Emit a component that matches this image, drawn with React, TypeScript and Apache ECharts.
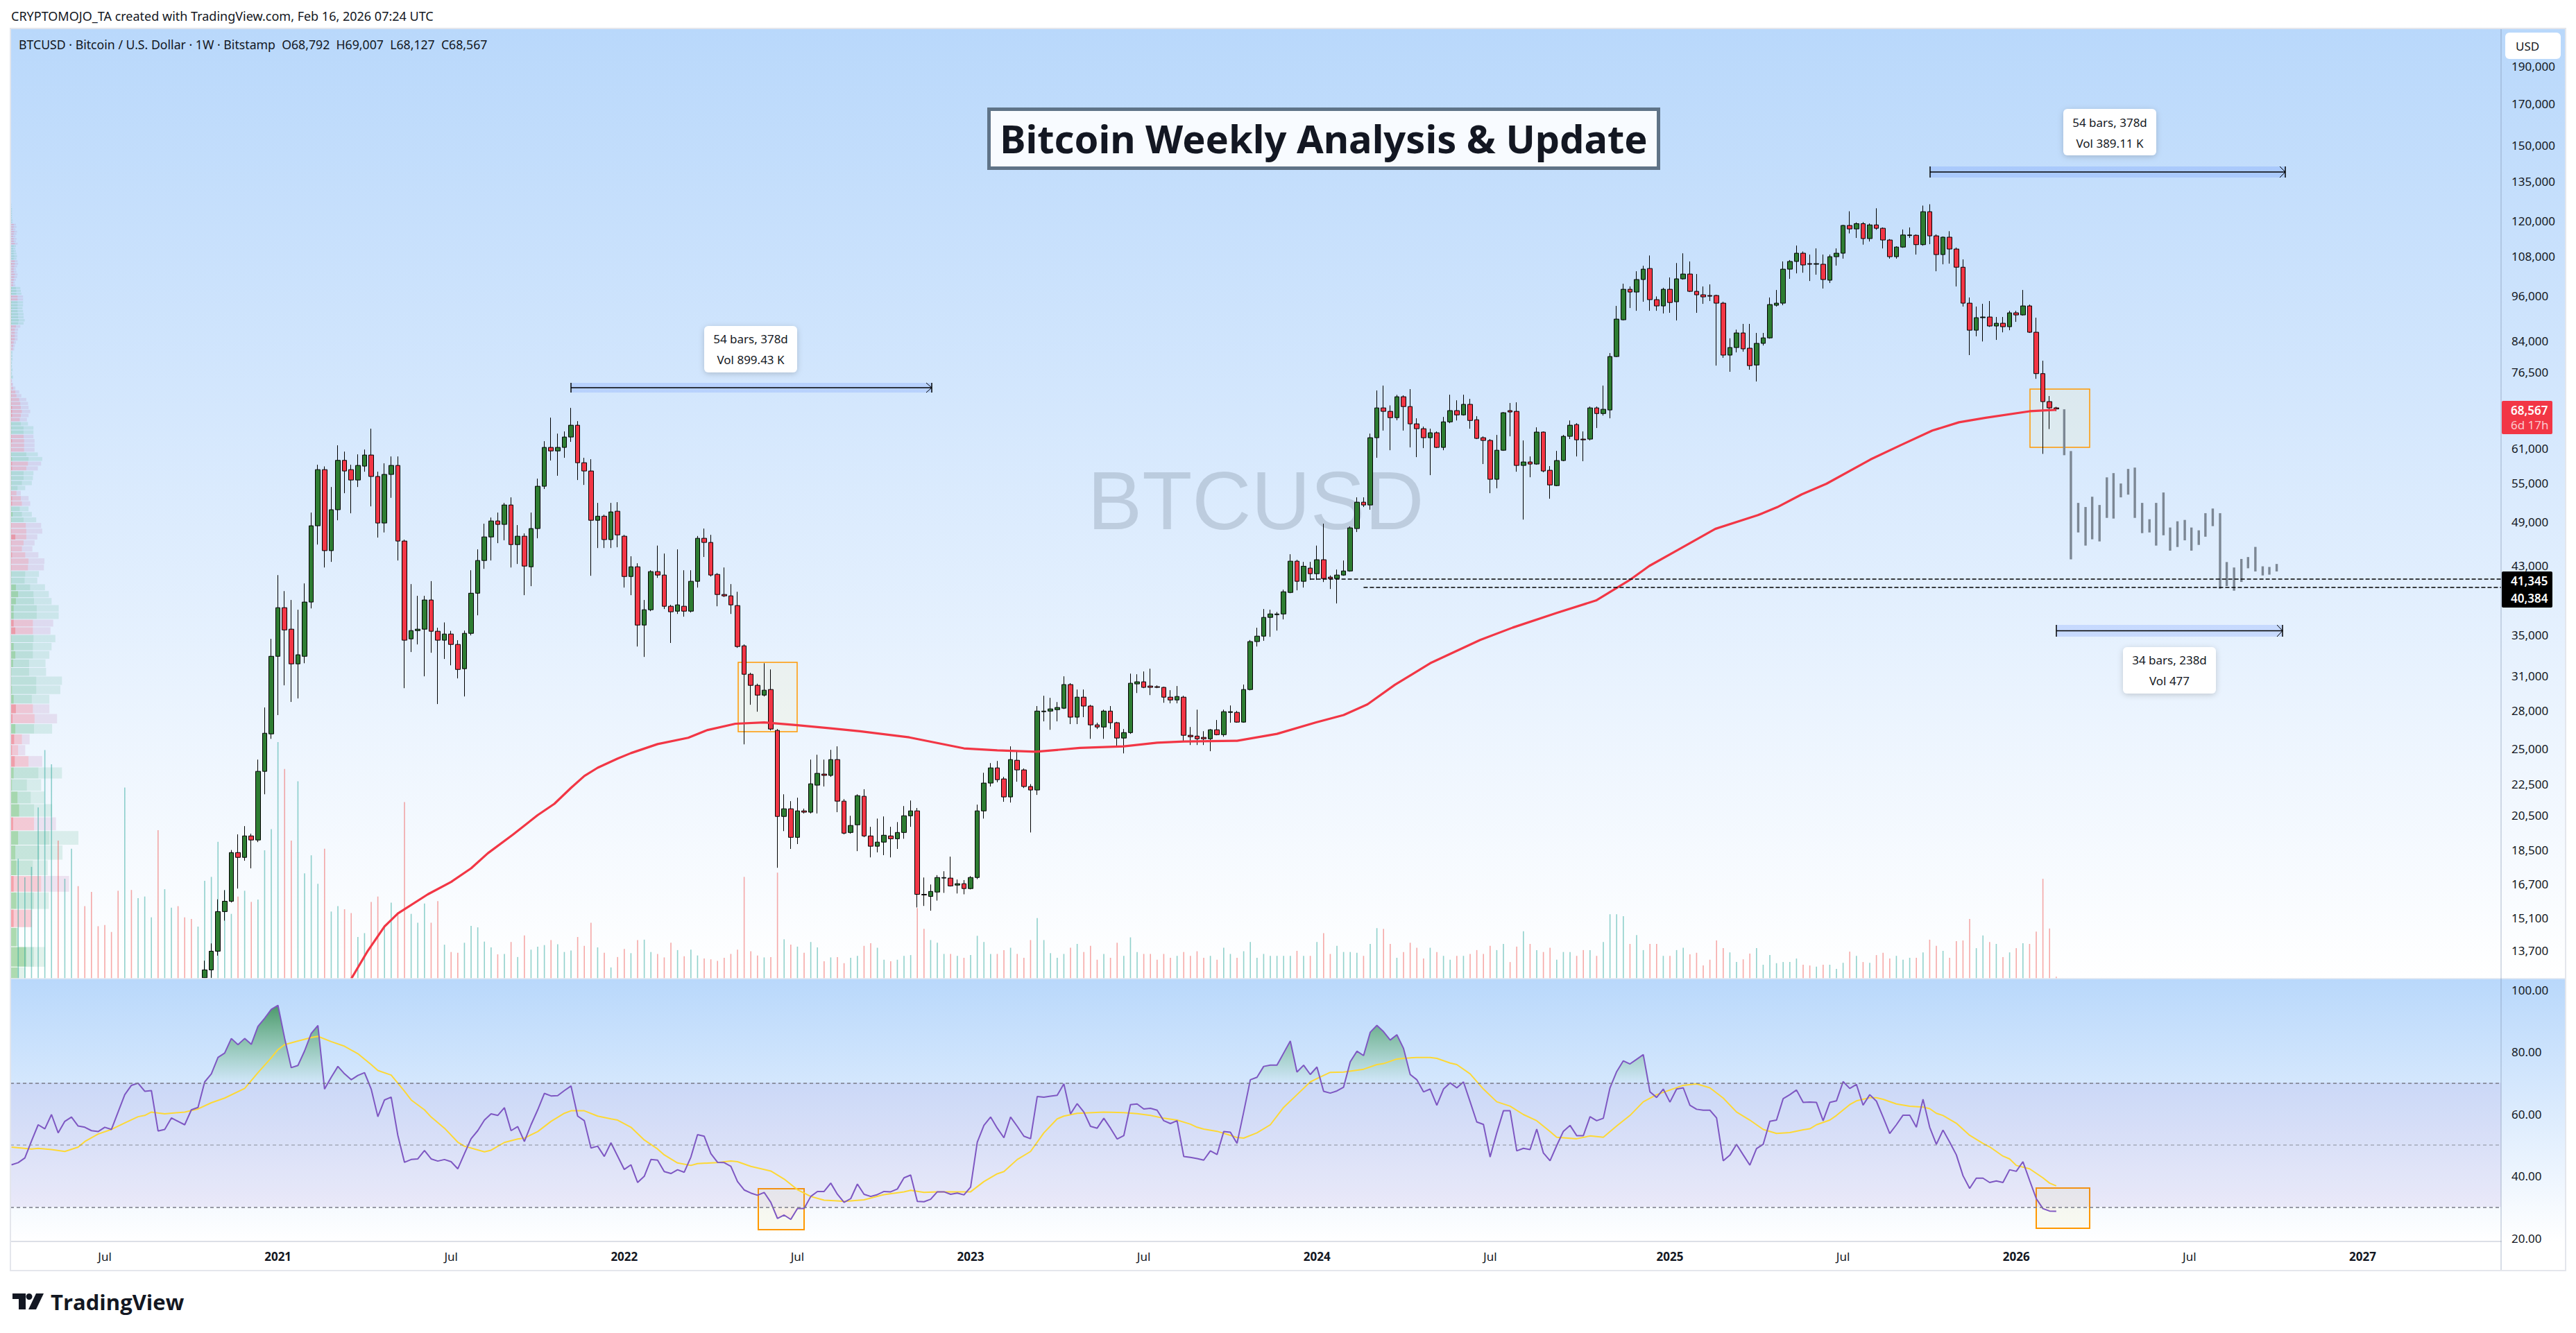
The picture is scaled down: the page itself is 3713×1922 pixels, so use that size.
import React, { useEffect, useRef } from "react";
import * as echarts from "echarts";

const FONT = '"Noto Sans", sans-serif';
const ORIGIN = Date.UTC(2020, 9, 19);
const WEEK = 7 * 864e5;
const weekTime = (w: number) => ORIGIN + w * WEEK;

const headerLine = "BTCUSD · Bitcoin / U.S. Dollar · 1W · Bitstamp  O68,792  H69,007  L68,127  C68,567";
const creditLine = "CRYPTOMOJO_TA created with TradingView.com, Feb 16, 2026 07:24 UTC";
const titleText = "Bitcoin Weekly Analysis & Update";

const priceTicks = [190000, 170000, 150000, 135000, 120000, 108000, 96000, 84000, 76500, 61000, 55000, 49000, 43000, 35000, 31000, 28000, 25000, 22500, 20500, 18500, 16700, 15100, 13700];
const rsiTicks = [100, 80, 60, 40, 20];
const timeTicks = ["2020-07-06", "2021-01-04", "2021-07-05", "2022-01-03", "2022-07-04", "2023-01-02", "2023-07-03", "2024-01-01", "2024-07-01", "2025-01-06", "2025-07-07", "2026-01-05", "2026-07-06", "2027-01-04"];

// [open, high, low, close], one row per week from 2020-10-19
const candles2020 = [[12640,13300,12640,12940],[12940,14000,12640,13680],[13680,15960,13500,15390],[15390,16400,14980,15870],[15870,18480,15810,18340],[18340,19360,16480,18080],[18080,19840,17900,19270],[19270,19400,17500,19040],[19040,24180,18920,23350],[23350,28230,21810,26150],[26100,34620,25720,32870]];
const candles2021 = [[32870,41840,27600,37980],[37980,39900,30150,35550],[35630,38860,28700,32140],[32140,37750,29000,33020],[32870,40820,32200,38620],[38620,50390,37900,48450],[48450,58090,45820,57250],[57250,57800,42800,45000],[45000,54370,43520,50820],[50820,61540,49250,58850],[58850,60400,53380,57020],[57250,58090,50280,55510],[55510,59910,54370,57970],[57850,60780,56900,59790],[59790,64660,51330,56100],[56100,56900,46780,48850],[48850,58330,47500,56440],[56440,59540,52650,57970],[57970,59540,43700,46300],[46300,46500,29900,34480],[34620,40740,33290,35480],[35480,39340,34050,35630],[35630,39340,30970,38860],[38860,41100,33220,35410],[35410,35780,28520,34480],[34480,36350,32610,35120],[35120,35450,32000,34050],[34050,34480,30780,31610],[31680,35480,29170,35190],[35190,42450,34980,39650],[39650,45170,37130,43700],[43700,48750,42630,46870],[46870,49650,43700,49150],[49150,50390,46010,48650],[48650,51860,46400,51540],[51540,52720,42800,45820],[45820,48550,43250,46970],[46970,47360,39420,42980],[42890,50390,40490,48050],[48050,55740,46680,54490],[54490,62300,54050,61160],[61160,66820,58820,60530],[60530,63720,56220,61160],[61160,64130,59300,63080],[63080,68780,62180,65330],[65330,66130,55510,58440],[58440,59300,54710,57020],[57020,59050,41760,49250],[49250,51860,45350,49850],[49850,50080,45350,46500],[46500,51860,45350,50490],[50590,51970,45450,47160]];
const candles2022 = [[46970,47160,40320,41670],[41670,44250,39420,42890],[42890,43340,33840,36070],[36070,38860,32810,37750],[37750,42450,37590,42280],[42280,45680,41500,41850],[41850,44610,37830,38140],[38140,38300,34200,37520],[37590,45170,37280,38300],[38140,42450,36980,37590],[37590,42450,37440,41080],[41080,47000,40320,46680],[46680,48050,44160,46110],[46110,47160,41670,41850],[41930,42100,38140,39500],[39500,42800,39200,39340],[39340,40740,37280,38300],[38220,39820,33700,33840],[33910,34050,25300,31160],[31160,31300,28460,30150],[30150,30300,27880,29290],[29290,32200,29170,29720],[29780,31610,26370,26480],[26370,26480,17530,20420],[20420,21810,19550,20890],[20890,21370,18540,19190],[19190,21590,18810,20760],[20760,20900,20600,20680],[20680,24180,20600,22500],[22410,24530,20600,23210],[23160,24180,22320,23070],[23070,24890,22970,24180],[24180,25150,20680,21370],[21370,21500,19360,19430],[19470,20460,19400,19880],[19920,21810,18420,21720],[21680,22140,19200,19270],[19270,19800,18080,18690],[18690,20290,18350,18920],[18920,20420,18200,19310],[19270,19800,18080,19110],[19110,20080,18540,19470],[19470,21060,19110,20460],[20460,21410,19800,20760],[20760,20940,15580,16200],[16200,17030,15650,16170],[16100,16680,15430,16340],[16310,17150,15900,17030],[17000,17350,16270,17030],[17000,18120,16580,16610],[16650,16930,16240,16720],[16720,16900,16200,16480]];
const candles2023 = [[16480,17100,16440,17030],[17030,21150,16950,20760],[20760,23250,20290,22550],[22550,23930,22320,23590],[23590,24080,22600,22780],[22830,22970,21330,21640],[21640,25150,21280,24180],[24130,24790,22640,23450],[23450,23550,22220,22320],[22320,22480,19470,22090],[22090,28350,21770,27930],[27880,29230,27090,27930],[27930,29050,26420,28110],[28050,28690,27090,28230],[28170,30970,28100,30220],[30220,30350,26870,27430],[27430,29780,26870,29110],[29110,29780,27430,28350],[28350,28450,25720,26810],[26810,26980,26480,26640],[26640,28050,25720,27930],[27930,28350,26480,26980],[26980,27050,25200,25780],[25780,26480,24630,26200],[26200,31220,26100,30340],[30280,31160,29470,30470],[30470,31420,29900,29970],[30090,31680,29290,29970],[30030,30150,29900,29970],[29970,30030,28630,29110],[29110,29720,28580,28870],[28870,30090,28580,29170],[29110,29230,25510,25990],[25990,26640,25250,25880],[25930,28050,25250,25720],[25830,26310,25250,25720],[25720,26480,24790,26420],[26420,27200,25990,26040],[26040,28050,25880,27880],[27820,28400,26980,27880],[27820,27950,26980,27030],[27030,30220,26980,29780],[29780,34500,29700,34340],[34340,35780,33840,34900],[34900,37830,34420,36900],[36900,37750,34830,37280],[37200,37500,35480,37280],[37280,40070,36680,39820],[39740,44520,39650,43610],[43610,43800,39990,41080],[41080,43520,40320,42960],[42720,43520,41250,42020]];
const candles2024 = [[42020,45680,41250,43800],[43800,48750,40990,41420],[41590,41800,40150,41420],[41420,42540,38460,41850],[41850,43700,41760,42360],[42360,48350,42270,48150],[48050,52720,47560,51970],[51970,52720,51230,51540],[51540,63720,50820,62950],[62950,72440,59300,68780],[68780,73500,64300,68080],[68080,69300,60650,66820],[66820,71500,66300,71100],[71100,71400,64300,69060],[69060,72730,61160,65600],[65600,66690,59420,64660],[64660,65060,61030,62950],[62950,64660,56320,63880],[63880,64130,61030,61160],[61160,66960,60650,65990],[65990,71530,65730,68230],[68230,70350,66260,67370],[67370,71530,67230,69510],[69510,70650,64660,66260],[66400,67100,62690,62820],[62950,63200,58210,62440],[62440,62700,53380,55630],[55630,63470,54160,60650],[60650,67950,60530,67800],[68230,69790,63210,67950],[68080,69930,56900,57970],[57970,62440,49350,58570],[58570,59540,55970,58210],[58210,64920,58090,64010],[64010,64130,56800,57020],[57140,57850,52510,54710],[54600,60530,54500,58820],[58820,63470,58700,63210],[63210,66260,62700,65330],[65460,65730,59540,62560],[62690,64130,58700,62560],[62690,69060,62440,68780],[68780,69060,64790,67640],[67640,73500,67230,68500],[68360,80950,66690,80130],[80130,93140,79990,89560],[89380,99500,89200,97860],[97860,98680,92560,97060],[97060,103250,91800,100740],[100740,104950,94300,103890],[104100,108200,91800,94890],[94890,95800,91800,93140],[93140,98300,91080,97860]];
const candles2025 = [[97860,101360,91250,94090],[94300,105800,89200,100950],[100950,108900,100700,102400],[102400,106300,97060,97260],[97260,102400,91250,96270],[96270,98680,93720,95680],[96070,99290,94500,95870],[96070,96300,78000,93910],[93910,94300,79820,80470],[80470,84590,76580,82300],[82300,86800,81120,85950],[85950,88290,81300,81980],[82140,88290,77050,78000],[78140,85950,74400,83330],[83330,85950,82800,84700],[84700,95500,84500,93520],[93330,97660,92960,93910],[93910,106300,93330,103890],[103890,106750,100950,106300],[106300,111450,102600,108940],[108940,109500,102800,105200],[105620,108500,100300,105420],[105420,110500,102200,105620],[105420,108500,98080,100740],[100540,108500,99700,107820],[107820,110500,105000,108940],[108940,118500,107200,118300],[118300,123400,115540,117090],[117090,119400,114000,118930],[118930,119500,111750,113780],[113780,119000,112800,118500],[118500,124500,116800,117320],[117320,117600,110500,113300],[113300,113600,107200,107820],[107820,111200,107200,110950],[110950,116900,110700,115000],[114800,117600,114000,115000],[114900,115200,108500,111750],[111750,125500,111400,123250],[123250,126000,111900,114700],[114700,115200,103250,108500],[108500,114500,105400,114250],[114250,116300,105620,110300],[110300,110800,98680,104500],[104500,106950,92960,93910],[93910,95500,80470,86650],[86650,92960,85100,89940],[89940,93720,83800,90120],[90120,94500,87500,87740],[87740,90120,84190,88460],[88460,90120,86100,87560],[87560,91800,86650,91250]];
const candles2026 = [[91250,91800,88830,90680],[90680,97660,90500,93140],[93140,93500,85950,86130],[86130,89940,75000,76160],[76160,79140,60000,70080],[70080,71250,64590,68790],[68792,69007,68127,68567]];

// Grey projected bars
const ghostWeeks = [279.2,280.2,281.3,282.4,283.4,284.5,285.6,286.6,287.7,288.8,289.8,290.9,292.0,293.0,294.1,295.1,296.2,297.3,298.3,299.4,300.4,301.5,302.6,303.6,304.7,305.8,306.8,307.9,309.0,310.0,311.1];
const ghostHigh = [68500,60500,51860,51230,52820,51540,55950,56660,54940,57370,57600,51860,49400,51860,53490,48200,49100,49300,48200,47800,50300,51000,50300,43500,42800,43900,44150,45500,42950,42870,43250];
const ghostLow = [59760,43850,47500,45680,46540,46250,49600,49500,52720,53150,49600,47400,47500,45680,47100,45000,45490,46400,45000,45770,46900,48400,40180,40500,39950,41000,42700,42300,41800,41900,42300];

// 200-period average
const maWeeks = [22,24.5,27,29,33.5,37,40,42.5,46.3,50,52.5,55,57,59,62,64,68,72.6,75.5,79.7,84,88.7,93.7,98.4,105.8,114,119,124.8,131.4,138,143,147,155,161,166.8,171,174.6,178.7,184,191.5,196.4,203,208.9,213.9,216.9,221.2,226.8,233.2,236.1,239.8,243.5,250.1,254.7,259.4,263.4,267.4,274,278];
const maValues = [12600,13700,14720,15300,16200,16810,17500,18300,19350,20500,21200,22230,23030,23600,24250,24650,25320,25800,26400,26900,27000,26800,26550,26300,25830,25000,24850,24750,25030,25150,25420,25520,25570,26100,27000,27600,28500,30200,32200,34500,35800,37400,38800,41200,43000,45100,48000,50000,51200,53200,54900,59000,61600,64300,65900,66800,68100,68400];

// Volume, thousand BTC
const volumeLead = [31.1,26.3,29.0,44.4,59.3,55.6,35.8,25.9,33.7,24.0,18.8,22.5,13.6,13.9,12.1,22.8,49.6,23.0,20.9,21.3,15.9,38.5,23.2,18.4,18.8,15.9,15.5,13.5];
const volumeLeadUp = ["g","g","g","g","g","g","r","g","g","r","r","r","r","r","r","r","g","r","g","g","g","r","g","g","r","r","r","g"];
const volumeA = [25.4,26.4,35.5,23.0,16.8,21.3,22.8,19.9,20.5,33.3,38.8,61.4,54.4,35.8,51.2,27.3,32.0,24.6,33.7,17.4,18.8,18.0,17.0,10.8,11.8,19.9,21.3,13.9,19.7,17.2,45.8,16.8,14.5,19.5,14.5,20.1,8.8,6.9,6.7,9.3,13.7,13.3,9.6,8.1,6.3,6.4,9.5,5.6,11.2,7.5,8.3,8.7,10.0,8.9,6.9,7.3,10.8,8.5,14.5,8.1,6.7,2.9,5.6,7.7,6.6,10.0,10.1,6.9,6.4,5.5,9.3,7.4,5.8,7.5,6.0,5.2,5.0,4.6,5.4,6.4,7.5,26.4,7.1,6.0,5.5,5.6,27.5,10.2,8.8,8.3,6.7,9.5,8.1,4.5,5.5,5.6,4.0,5.4,5.9];
const volumeB = [8.5,9.2,8.0,4.9,4.5,4.9,5.9,6.1,18.3,12.9,10.0,9.3,6.4,6.4,5.9,5.4,6.1,11.1,9.5,6.4,6.4,7.4,8.0,6.4,5.4,10.0,15.7,10.0,6.6,5.4,6.4,8.0,9.0,6.9,8.5,4.9,6.4,5.4,9.3,5.9,10.7,6.9,6.4,6.4,4.9,6.4,5.4,5.9,6.9,5.9,7.1,5.4,5.9,4.9,8.0,6.4,5.4,7.1,9.5,5.4,6.4,5.9,5.9,5.9,5.9,7.2,5.9,5.9,9.5,11.8,6.4,8.5,6.9,6.9,6.7,5.9,9.0,13.1,12.9,9.0,5.4,6.9,9.3,8.0,5.2,8.0,6.9,5.9,4.9,5.9,5.9,6.4,7.4,6.4,8.5,7.4,9.0,4.3,8.3,12.3,9.0,7.4,6.9,8.0,4.9,6.9,6.9,5.9,7.4,7.4,5.9,9.5,16.7,16.7,16.2,9.0,11.3,7.4,9.0,9.0,5.9,5.9,7.4,8.0];
const volumeC = [6.3,6.7,3.4,4.9,9.9,7.9,6.8,4.3,5.0,6.5,7.9,3.6,6.1,4.0,4.3,4.3,5.2,3.6,3.4,3.1,3.6,3.6,2.5,4.1,7.0,5.9,4.3,4.1,6.1,6.7,5.2,5.9,4.9,5.4,5.4,6.8,10.1,8.5,7.2,5.4,9.7,9.9,15.5,7.9,11.2,9.5,9.0,5.6,6.8,7.9,9.2,9.0,12.2,25.9,13.0,0.5];

// RSI, weekly from 2020-03-30
const rsiA = [43.6,44.3,45.8,51.3,56.5,55.2,59.8,53.9,57.6,59.0,56.1,55.7,54.6,54.3,55.7,55.0,60.6,66.2,69.2,69.9,67.3,67.5,54.5,55.0,58.7,57.6,56.5,61.3,62.1,70.3,72.9,78.2,79.6,84.3,82.3,84.3,82.4,88.2,90.8,93.7,95.0,84.4,74.9,75.6,80.3,85.9,88.5,68.0,71.8,75.3,72.9,71.0,72.4,73.3,68.0,59.1,64.5,65.4,53.1,44.4,45.3,45.5,48.2,45.5,44.8,45.3,44.6,42.3,47.2,52.0,54.6,58.0,60.0,59.5,62.0,54.6,55.9,51.1,56.5,61.3,66.6,65.8,65.9,67.5,69.0,59.3,57.8,49.0,49.6,46.3,50.7,46.4,42.1,43.6,37.9,39.9,45.3,45.1,41.4,40.8,42.0,41.2,46.1,53.3,52.8,47.2,44.4,44.3,43.1,38.2,35.5,34.5,33.8,34.7,31.5,26.3,27.4,26.0,29.5,29.5,33.4,35.0,35.0,37.7,34.1,31.5,32.7,37.4,34.1,33.4,34.0,35.0,34.9,35.8];
const rsiB = [39.4,40.3,31.8,31.7,32.5,34.9,34.9,34.1,34.5,33.9,36.4,50.9,56.3,59.0,55.4,52.3,59.0,56.0,52.8,52.0,65.6,65.4,65.7,66.0,69.7,60.0,63.3,60.6,56.0,55.4,58.6,55.4,51.9,53.0,63.0,63.2,61.6,61.8,61.2,57.8,56.9,57.8,46.3,46.0,45.6,45.1,48.1,46.9,54.3,54.1,50.5,60.6,71.0,71.8,75.3,75.7,75.7,79.6,83.5,73.5,75.7,72.7,75.1,67.3,66.7,67.4,68.6,76.8,80.2,78.8,86.3,88.5,86.5,83.8,85.5,81.1,72.7,71.0,67.1,68.0,62.8,68.0,70.0,68.4,70.3,63.9,57.4,56.6,46.1,53.9,61.0,61.0,48.1,48.9,48.5,55.1,47.4,44.9,49.8,54.4,56.3,53.0,53.0,59.1,57.8,58.6,68.4,73.6,77.1,76.1,77.6,79.1,67.1,65.3,68.0,63.8,68.0,68.4,62.8,61.5,61.2,61.2,58.7,44.9,46.7,50.2,46.8,43.5,48.8,50.2,57.6,58.0,64.9,66.2,67.7,63.7];
const rsiC = [63.8,63.7,57.8,63.7,64.2,70.4,68.2,69.5,62.8,66.2,64.1,59.0,53.7,56.5,59.6,59.6,55.7,64.7,55.7,50.2,54.8,50.9,46.8,40.1,36.0,39.3,39.3,37.9,38.4,37.9,42.0,41.5,44.6,38.6,32.7,29.5,28.7,28.6];

// RSI average
const rsiMaWeeks = [-29,-26,-25,-23,-21,-19,-18,-16,-14,-12,-10,-9,-8,-6,-3,-1,1,3,6,8,10,11,12,14,16,17,19,21,23,25,26,28,30,31,33,34,36,38,39,42,43,45,47,48,50,52,54,55,57,59,61,62,64,66,68,69,71,73,74,77,79,80,82,85,87,89,91,93,95,96,99,102,105,106,108,110,112,115,117,119,120,122,124,126,128,129,131,135,138,140,142,144,146,148,149,150,152,154,155,156,158,160,162,164,166,167,169,171,174,176,177,179,180,182,184,185,187,188,190,192,194,196,198,200,202,203,206,208,210,212,214,216,218,220,222,224,226,228,230,232,234,236,238,240,241,242,244,245,247,248,250,251,252,254,256,258,259,260,261,263,265,267,268,270,271,272,274,276,277,278];
const rsiMaValues = [49.3,48.7,48.9,48.5,47.9,49.3,51.1,53.5,55.0,57.1,59.1,59.5,60.6,60.0,60.6,61.6,63.6,65.1,68.2,73.3,78.1,80.7,82.3,83.5,84.6,85.0,83.3,81.8,79.4,75.9,74.0,72.5,67.3,64.5,61.3,59.0,55.4,50.9,49.6,47.8,48.3,50.8,51.9,52.2,54.3,57.6,60.2,61.0,61.0,59.3,58.4,58.0,55.7,51.6,48.7,46.8,44.2,43.4,44.0,44.3,44.8,44.6,43.1,41.6,39.0,35.6,33.4,32.2,32.0,31.8,32.3,34.0,34.9,35.4,34.7,34.9,34.9,34.9,38.2,40.7,41.4,45.3,47.9,53.9,58.4,59.3,60.2,60.6,60.4,60.1,59.5,58.6,58.0,56.7,55.7,55.1,54.4,53.1,52.4,52.2,53.9,56.5,62.1,66.2,70.3,71.4,73.4,73.5,74.4,75.9,76.2,77.7,77.9,78.2,78.2,77.9,76.4,75.9,72.9,68.0,63.9,62.5,59.8,57.8,54.3,52.5,52.0,52.9,52.5,56.1,59.5,63.9,66.2,67.7,69.2,69.7,68.4,65.1,60.6,58.0,55.0,53.7,54.0,54.9,55.2,56.5,58.0,59.5,63.0,64.2,65.2,65.2,64.7,63.2,62.5,62.2,61.7,60.2,59.5,57.0,53.1,50.5,49.4,46.4,45.5,43.4,42.3,39.4,37.7,36.8];

// Volume profile rows, from the lowest price up
const profileStart = 12235;
const profileStep = 815;
const profileSignsLow = ["g","g","g","r","g","r","g","g","g","r","g","g","g","g","r","r","r","g","r","r","g","g","g","g","g","g","g","g","r","r","g","g","g","g","g","g","g","r","r","r","r","r","r","r","r","g","g","g","r","r","r","g","g"];
const profileTotalLow = [28,63,14,39,70,107,68,95,124,83,76,62,56,94,58,27,35,76,85,71,71,91,94,65,64,71,75,82,73,78,88,88,75,70,63,49,52,61,62,51,40,44,49,58,56,47,39,33,36,33,19,27,39];
const profileMidLow = [16,43,14,39,43,56,41,53,71,43,43,37,30,51,33,14,21,43,44,41,39,47,47,34,34,41,41,42,41,41,48,48,43,42,36,26,27,32,33,27,21,24,29,29,28,24,21,17,21,19,11,13,21];
const profileDarkLow = [13,29,11,6,11,6,11,9,14,5,16,13,3,6,8,3,7,9,4,10,6,3,2,2,5,9,6,2,9,6,6,6,10,14,10,2,2,2,2,3,2,2,9,2,2,2,4,2,3,3,2,2,2];
const profileSignsHigh = ["g","g","r","r","g","g","r","r","r","r","g","g","g","r","r","r","r","r","r","r","r","r","r","r","g","g","g","g","g","g","g","g","r","r","r","r","r","r","r","r","g","g","g","g","g","g","g","g","r","r","g","g","g","r","r","r","r","r","r","r","r","r","r","g","g","g","g","g","g","r","r","r","r","r","r","r","r","r","g","g","g","g","g","g","g","g","g"];
const profileTotalHigh = [41,42,50,56,58,50,44,44,44,42,42,42,32,30,33,36,33,32,29,20,16,9,5,3,5,3,4,3,3,4,4,4,7,8,10,13,13,13,14,18,24,26,24,24,23,22,23,23,23,23,20,19,18,9,8,10,12,13,11,10,12,14,13,11,12,11,10,9,10,13,10,11,9,11,12,9,11,10,4,4,3,3,3,3,3,2,2];
const profileMidHigh = [24,24,29,32,33,29,25,25,25,24,24,24,19,17,19,21,19,18,16,11,9,5,3,2,3,2,2,2,2,2,2,2,4,5,6,8,8,8,8,10,14,15,14,14,13,13,13,13,13,13,11,11,10,5,5,6,7,8,6,6,7,8,8,6,7,6,6,5,6,8,6,6,5,6,7,5,6,6,2,2,2,2,2,2,2,1,1];
const profileDarkHigh = [2,2,3,3,3,2,2,2,3,2,2,2,2,2,3,3,3,2,2,2,2,1,1,1,1,1,1,1,1,1,1,1,1,1,2,2,2,1,2,2,2,2,2,2,2,2,2,2,2,2,2,2,2,1,1,1,1,1,1,1,1,2,1,1,1,1,1,1,1,1,1,1,1,1,1,1,1,1,1,1,1,1,1,1,1,1,1];

const UP = "#2e7d32";
const DOWN = "#f23645";
const INK = "#131722";
const NOTE_FILL = "rgba(245,240,200,0.25)";

const ohlc = [...candles2020, ...candles2021, ...candles2022, ...candles2023, ...candles2024, ...candles2025, ...candles2026];
const rsi = [...rsiA, ...rsiB, ...rsiC];
const rsiAt = (i: number) => weekTime(i - 29);

function text(x: number, y: number, t: string, size: number, opts: any = {}) {
  return {
    type: "text", x, y, z: opts.z ?? 50, silent: true,
    style: {
      text: t, fill: opts.fill ?? INK,
      font: `${opts.weight ?? "normal"} ${size}px ${opts.family ?? FONT}`,
      align: opts.align ?? "left", verticalAlign: "middle",
      textAlign: opts.align ?? "left", textVerticalAlign: "middle",
    },
  };
}
function rect(x: number, y: number, w: number, h: number, style: any, z = 1, r?: number) {
  return { type: "rect", z, silent: true, shape: { x, y, width: w, height: h, r: r ?? 0 }, style };
}
function line(x1: number, y1: number, x2: number, y2: number, stroke: string, lineWidth = 1, z = 30) {
  return { type: "line", z, silent: true, shape: { x1, y1, x2, y2 }, style: { stroke, lineWidth } };
}
function measure(x1: number, x2: number, top: number, bottom: number) {
  const mid = (top + bottom) / 2;
  return [
    rect(x1, top, x2 - x1, bottom - top, { fill: "rgba(41,98,255,0.16)" }, 1),
    line(x1, mid, x2, mid, "#000", 1.5, 3),
    line(x1, top, x1, bottom, "#000", 1.5, 3),
    line(x2, top, x2, bottom, "#000", 1.5, 3),
    { type: "polyline", z: 3, silent: true, shape: { points: [[x2 - 8, top], [x2, mid], [x2 - 8, bottom]] }, style: { stroke: "#000", lineWidth: 1, fill: "none" } },
  ];
}
function noteBox(x: number, y: number, w: number, h: number, a: string, b: string, ya: number, yb: number) {
  return [
    rect(x, y, w, h, { fill: "#fff", shadowBlur: 8, shadowColor: "rgba(0,0,0,0.18)", shadowOffsetY: 2 }, 20, 6),
    text(x + w / 2, ya, a, 17, { align: "center" }),
    text(x + w / 2, yb, b, 17, { align: "center" }),
  ];
}

function buildOption() {
  const xMin = weekTime(-29.17);
  const xMax = weekTime(344.79);
  const vol: any[] = [];
  volumeLead.forEach((v, i) => {
    const c = volumeLeadUp[i] === "g" ? "rgba(38,166,154,0.5)" : "rgba(239,83,80,0.5)";
    vol.push({ value: [weekTime(i - 28), v], itemStyle: { color: c } });
  });
  [...volumeA, ...volumeB, ...volumeC].forEach((v, i) => {
    const k = ohlc[i];
    const c = k && k[3] >= k[0] ? "rgba(38,166,154,0.5)" : "rgba(239,83,80,0.5)";
    vol.push({ value: [weekTime(i), v], itemStyle: { color: c } });
  });
  const signs = [...profileSignsLow, ...profileSignsHigh];
  const totals = [...profileTotalLow, ...profileTotalHigh];
  const mids = [...profileMidLow, ...profileMidHigh];
  const darks = [...profileDarkLow, ...profileDarkHigh];
  const profile = totals.map((t, k) => [
    profileStart + k * profileStep,
    profileStart + (k + 1) * profileStep,
    t, mids[k], darks[k], signs[k] === "g" ? 1 : 0,
  ]);
  const overGradient = new (echarts as any).graphic.LinearGradient(0, 1449, 0, 1561, [
    { offset: 0, color: "rgba(46,135,70,0.8)" },
    { offset: 1, color: "rgba(76,175,80,0.02)" },
  ], true);
  const underGradient = new (echarts as any).graphic.LinearGradient(0, 1739, 0, 1770, [
    { offset: 0, color: "rgba(242,54,69,0.02)" },
    { offset: 1, color: "rgba(242,54,69,0.14)" },
  ], true);
  const paneFill = (y1: number, y2: number) => new (echarts as any).graphic.LinearGradient(0, y1, 0, y2, [
    { offset: 0, color: "#b9d8fb" },
    { offset: 0.4, color: "#d4e7fd" },
    { offset: 1, color: "#ffffff" },
  ], true);

  return {
    animation: false,
    backgroundColor: "#fff",
    grid: [
      { left: 15, top: 41, width: 3590, height: 1370 },
      { left: 15, top: 1411, width: 3590, height: 379 },
    ],
    xAxis: [
      { type: "value", gridIndex: 0, min: xMin, max: xMax, axisLabel: { show: false }, axisTick: { show: false }, axisLine: { show: false }, splitLine: { show: false } },
      {
        type: "value", gridIndex: 1, min: xMin, max: xMax,
        axisTick: { show: false }, splitLine: { show: false },
        axisLine: { show: true, lineStyle: { color: "#dcdfe6", width: 2 } },
        axisLabel: {
          customValues: timeTicks.map((d) => Date.parse(d)),
          margin: 13, fontFamily: FONT, fontSize: 17, color: INK, hideOverlap: false,
          formatter: (v: number) => {
            const d = new Date(v);
            return d.getUTCMonth() === 0 ? `{y|${d.getUTCFullYear()}}` : "Jul";
          },
          rich: { y: { fontWeight: "bold", fontFamily: FONT, fontSize: 17, color: INK } },
        },
      },
      { type: "value", gridIndex: 0, min: 0, max: 4540, show: false },
    ],
    yAxis: [
      {
        type: "log", gridIndex: 0, position: "right", min: 12610, max: 212500,
        axisTick: { show: false }, axisLine: { show: false }, splitLine: { show: false }, minorSplitLine: { show: false }, minorTick: { show: false },
        axisLabel: {
          customValues: priceTicks, margin: 15, fontFamily: FONT, fontSize: 17, color: INK,
          formatter: (v: number) => Math.round(v).toLocaleString("en-US"),
        },
      },
      {
        type: "value", gridIndex: 1, position: "right", min: 18.9, max: 103.6,
        axisTick: { show: false }, axisLine: { show: false }, splitLine: { show: false },
        axisLabel: {
          customValues: rsiTicks, margin: 15, fontFamily: FONT, fontSize: 17, color: INK,
          showMinLabel: true, showMaxLabel: true,
          formatter: (v: number) => v.toFixed(2),
        },
      },
      { type: "value", gridIndex: 0, min: 0, max: 246.6, show: false },
    ],
    series: [
      {
        type: "custom", name: "Volume profile", xAxisIndex: 2, yAxisIndex: 0, z: 2, clip: true, silent: true,
        encode: { x: [2], y: [0, 1] }, data: profile,
        renderItem: (_p: any, api: any) => {
          const lo = api.value(0), hi = api.value(1), t = api.value(2), m = api.value(3), d = api.value(4), up = api.value(5) === 1;
          const a = api.coord([0, hi]);
          const b = api.coord([0, lo]);
          const xt = api.coord([t, lo])[0], xm = api.coord([m, lo])[0], xd = api.coord([d, lo])[0];
          const y = a[1] + 0.5, h = Math.max(1, b[1] - a[1] - 1);
          const palette = up
            ? ["rgba(60,170,120,0.14)", "rgba(60,170,120,0.26)", "rgba(76,175,80,0.45)"]
            : ["rgba(190,110,170,0.17)", "rgba(242,54,85,0.24)", "rgba(242,54,69,0.45)"];
          return {
            type: "group", children: [
              { type: "rect", shape: { x: xm, y, width: xt - xm, height: h }, style: { fill: palette[0] } },
              { type: "rect", shape: { x: xd, y, width: xm - xd, height: h }, style: { fill: palette[1] } },
              { type: "rect", shape: { x: a[0], y, width: xd - a[0], height: h }, style: { fill: palette[2] } },
            ],
          };
        },
      },
      {
        type: "bar", name: "Volume", xAxisIndex: 0, yAxisIndex: 2, barWidth: 1.6, z: 2, silent: true, data: vol,
      },
      {
        type: "candlestick", name: "BTCUSD", xAxisIndex: 0, yAxisIndex: 0, barWidth: 7, z: 3, silent: true,
        itemStyle: { color: UP, color0: DOWN, borderColor: "#000", borderColor0: "#000", borderWidth: 1 },
        data: ohlc.map((k, i) => [weekTime(i), k[0], k[3], k[2], k[1]]),
      },
      {
        type: "line", name: "MA 200", xAxisIndex: 0, yAxisIndex: 0, z: 4, silent: true, showSymbol: false,
        lineStyle: { color: "#f23645", width: 3.2 },
        data: maWeeks.map((w, i) => [weekTime(w), maValues[i]]),
        markLine: {
          silent: true, symbol: "none", label: { show: false }, animation: false,
          lineStyle: { color: "#000", type: "dashed", width: 1.5 },
          data: [
            [{ coord: [weekTime(166), 41345] }, { coord: [xMax, 41345] }],
            [{ coord: [weekTime(174), 40384] }, { coord: [xMax, 40384] }],
          ],
        },
      },
      {
        type: "custom", name: "Projection", xAxisIndex: 0, yAxisIndex: 0, z: 3, silent: true, clip: true,
        encode: { x: [0], y: [1, 2] },
        data: ghostWeeks.map((w, i) => [weekTime(w), ghostLow[i], ghostHigh[i]]),
        renderItem: (_p: any, api: any) => {
          const a = api.coord([api.value(0), api.value(2)]);
          const b = api.coord([api.value(0), api.value(1)]);
          return { type: "rect", shape: { x: a[0] - 1.7, y: a[1], width: 3.4, height: b[1] - a[1] }, style: { fill: "#7c8794" } };
        },
      },
      {
        type: "line", name: "RSI over", xAxisIndex: 1, yAxisIndex: 1, z: 2, silent: true, showSymbol: false,
        lineStyle: { width: 0 }, areaStyle: { origin: 70, color: overGradient, opacity: 1 },
        data: rsi.map((v, i) => [rsiAt(i), Math.max(v, 70)]),
      },
      {
        type: "line", name: "RSI under", xAxisIndex: 1, yAxisIndex: 1, z: 2, silent: true, showSymbol: false,
        lineStyle: { width: 0 }, areaStyle: { origin: 30, color: underGradient, opacity: 1 },
        data: rsi.map((v, i) => [rsiAt(i), Math.min(v, 30)]),
      },
      {
        type: "line", name: "RSI", xAxisIndex: 1, yAxisIndex: 1, z: 4, silent: true, showSymbol: false,
        lineStyle: { color: "#7e57c2", width: 2 },
        data: rsi.map((v, i) => [rsiAt(i), v]),
        markArea: {
          silent: true, itemStyle: { color: "rgba(126,87,194,0.1)" }, label: { show: false },
          data: [[{ yAxis: 70 }, { yAxis: 30 }]],
        },
        markLine: {
          silent: true, symbol: "none", label: { show: false },
          data: [
            { yAxis: 70, lineStyle: { color: "#787b86", type: [5, 4], width: 1.5 } },
            { yAxis: 50, lineStyle: { color: "rgba(120,123,134,0.55)", type: [5, 4], width: 1.5 } },
            { yAxis: 30, lineStyle: { color: "#787b86", type: [5, 4], width: 1.5 } },
          ],
        },
      },
      {
        type: "line", name: "RSI MA", xAxisIndex: 1, yAxisIndex: 1, z: 3, silent: true, showSymbol: false,
        lineStyle: { color: "#fdd835", width: 2 },
        data: rsiMaWeeks.map((w, i) => [weekTime(w), rsiMaValues[i]]),
      },
    ],
    graphic: [
      rect(15, 41, 3683, 1370, { fill: paneFill(41, 1411) }, -10),
      rect(15, 1411, 3683, 379, { fill: paneFill(1411, 1790) }, -10),
      rect(15, 41, 3683, 1791, { fill: "none", stroke: "#e4e6ec", lineWidth: 2 }, 40),
      line(15, 1411, 3698, 1411, "#e3e8f0", 1.5),
      line(3605, 41, 3605, 1832, "rgba(120,140,170,0.4)", 1.5),
      text(16, 23, creditLine, 18),
      text(27, 64, headerLine, 17.7),
      text(1810, 722, "BTCUSD", 118, { align: "center", family: '"Liberation Sans", sans-serif', fill: "rgba(110,125,145,0.28)", z: 1 }),
      rect(1425.5, 157.5, 965, 85, { fill: "#f8fbff", stroke: "#5f7387", lineWidth: 5 }, 20),
      text(1908, 199, titleText, 56, { align: "center", weight: "bold", z: 21 }),
      rect(1064, 955, 85, 100, { fill: NOTE_FILL, stroke: "#ff9800", lineWidth: 1.5 }, 1),
      rect(2926, 561, 86, 84, { fill: NOTE_FILL, stroke: "#ff9800", lineWidth: 1.5 }, 1),
      rect(1093, 1714, 66, 59, { fill: NOTE_FILL, stroke: "#ff9800", lineWidth: 2 }, 1),
      rect(2935, 1713, 77, 58, { fill: NOTE_FILL, stroke: "#ff9800", lineWidth: 2 }, 1),
      ...measure(823, 1343, 552, 566),
      ...measure(2782, 3294, 240, 256),
      ...measure(2964, 3290, 901, 918),
      ...noteBox(1015, 470, 134, 67, "54 bars, 378d", "Vol 899.43 K", 488, 518),
      ...noteBox(2974, 157, 134, 67, "54 bars, 378d", "Vol 389.11 K", 176, 206),
      ...noteBox(3060, 933, 134, 67, "34 bars, 238d", "Vol 477", 951, 981),
      rect(3606, 578, 73, 48, { fill: "#f23645" }, 45, 2),
      text(3619, 591, "68,567", 17, { fill: "#fff", weight: "600", z: 46 }),
      text(3619, 612, "6d 17h", 17, { fill: "#fbc9ce", z: 46 }),
      rect(3606, 824, 73, 52, { fill: "#000" }, 45, 2),
      text(3619, 837, "41,345", 17, { fill: "#fff", weight: "600", z: 46 }),
      text(3619, 862, "40,384", 17, { fill: "#fff", weight: "600", z: 46 }),
      rect(3611, 47, 80, 38, { fill: "#fff" }, 45, 6),
      text(3626, 66, "USD", 17, { z: 46 }),
      rect(18, 1865, 19, 8, { fill: INK }, 30),
      rect(27, 1865, 10, 23, { fill: INK }, 30),
      { type: "circle", z: 30, silent: true, shape: { cx: 42, cy: 1869.5, r: 4.5 }, style: { fill: INK } },
      { type: "polygon", z: 30, silent: true, shape: { points: [[52, 1865], [63, 1865], [52, 1888], [41, 1888]] }, style: { fill: INK } },
      text(73, 1877, "TradingView", 31, { weight: "bold", family: '"Open Sans", sans-serif' }),
    ],
  };
}

export default function App() {
  const ref = useRef<HTMLDivElement>(null);
  useEffect(() => {
    document.body.style.margin = "0";
    const chart = echarts.init(ref.current as HTMLDivElement, undefined, { renderer: "svg" });
    chart.setOption(buildOption() as any);
    return () => chart.dispose();
  }, []);
  return <div ref={ref} style={{ width: 3713, height: 1922 }} />;
}
